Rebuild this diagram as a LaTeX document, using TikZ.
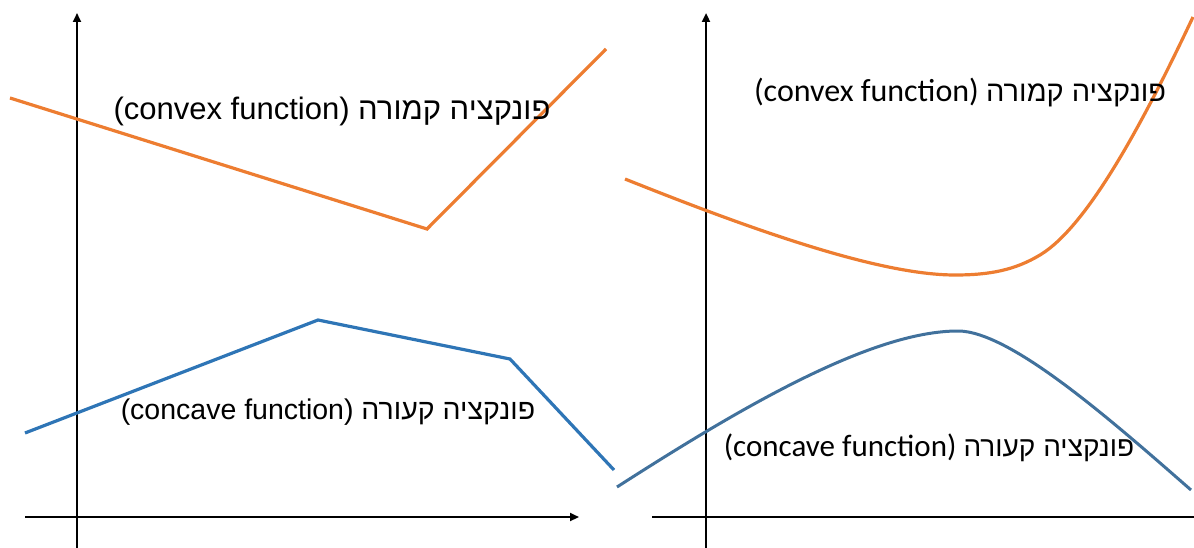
\documentclass[tikz,border=0pt]{standalone}
\usepackage{fontspec}
\setmainfont{Liberation Sans}
\newfontfamily\hebfont[Script=Hebrew]{Liberation Sans}
\newfontfamily\calfont{Carlito}
\TeXXeTstate=1
\usetikzlibrary{arrows.meta}
\definecolor{orng}{HTML}{ED7D31}
\definecolor{blueL}{HTML}{2E75B6}
\definecolor{blueR}{HTML}{41719C}
\tikzset{
  axis/.style={line width=2.2pt, black},
  axisarrow/.style={axis, -{Triangle[length=9pt,width=8pt]}},
  curveO/.style={line width=3.2pt, orng, line join=miter},
  curveBL/.style={line width=3.2pt, blueL},
  curveBR/.style={line width=3pt, blueR},
  lblL/.style={inner sep=0pt, font=\fontsize{31}{36}\selectfont},
  lblLs/.style={inner sep=0pt, font=\fontsize{28.5}{34}\selectfont},
  lblR/.style={inner sep=0pt, font=\calfont\fontsize{32}{38}\selectfont},
  lblRs/.style={inner sep=0pt, font=\calfont\fontsize{31}{37}\selectfont},
}
\begin{document}
\begin{tikzpicture}[x=1pt,y=-1pt]
\useasboundingbox (0,0) rectangle (1194,548);
% left axes
\coordinate (ly0) at (77,548); \coordinate (ly1) at (77,13);
\coordinate (lx0) at (25,517); \coordinate (lx1) at (579,517);
\draw[axisarrow] (ly0) -- (ly1);
\draw[axisarrow] (lx0) -- (lx1);
% right axes
\coordinate (ry0) at (706,548); \coordinate (ry1) at (706,13);
\coordinate (rx0) at (652,517); \coordinate (rx1) at (1194,517);
\draw[axisarrow] (ry0) -- (ry1);
\draw[axis] (rx0) -- (rx1);
% left convex
\coordinate (a1) at (10,98); \coordinate (a2) at (427,229); \coordinate (a3) at (606,49);
\draw[curveO] (a1) -- (a2) -- (a3);
% left concave
\coordinate (b1) at (25,433); \coordinate (b2) at (318,320); \coordinate (b3) at (510,359); \coordinate (b4) at (614,470);
\draw[curveBL] (b1) -- (b2) -- (b3) -- (b4);
% right convex
\coordinate (c1) at (625,179); \coordinate (c2) at (955,275); \coordinate (c3) at (1040,255); \coordinate (c4) at (1193,17);
\draw[curveO] (c1) .. controls (755,231) and (880,275) .. (c2)
  .. controls (990,275) and (1015,270) .. (c3)
  .. controls (1090,225) and (1148,112) .. (c4);
% right concave
\coordinate (d1) at (617,487); \coordinate (d2) at (958,331); \coordinate (d3) at (1191,490);
\draw[curveBR] (d1) .. controls (737,410) and (870,331) .. (d2)
  .. controls (1010,331) and (1111,420) .. (d3);
% labels
\node[lblL] (t1) at (332,111) {(convex function) {\hebfont\beginR פונקציה קמורה\endR}};
\node[lblLs] (t2) at (328,412) {(concave function) {\hebfont\beginR פונקציה קעורה\endR}};
\node[lblR] (t3) at (960,93) {(convex function) {\hebfont\fontsize{29}{34}\selectfont\beginR פונקציה קמורה\endR}};
\node[lblRs] (t4) at (929,448) {(concave function) {\hebfont\fontsize{28}{33}\selectfont\beginR פונקציה קעורה\endR}};
\end{tikzpicture}
\end{document}
